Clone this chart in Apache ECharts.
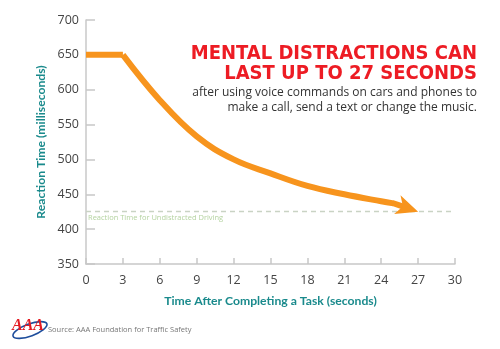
<!DOCTYPE html>
<html><head><meta charset="utf-8">
<script src="https://cdn.jsdelivr.net/npm/echarts@6/dist/echarts.min.js"></script>
<style>html,body{margin:0;padding:0;background:#fff}#c{width:500px;height:349px}</style>
</head><body><div id="c"></div>
<script>
var timeSec = [0, 3, 6, 9, 12, 15, 18, 21, 24, 25];
var reactionMs = [650, 650, 585, 533, 500, 480, 462, 450, 440, 437];
var arrowTip = [27, 425];
var undistractedMs = 425;
var xTicks = [0, 3, 6, 9, 12, 15, 18, 21, 24, 27, 30];
var yTicks = [350, 400, 450, 500, 550, 600, 650, 700];
var titleLines = ['MENTAL DISTRACTIONS CAN', 'LAST UP TO 27 SECONDS'];
var subLines = ['after using voice commands on cars and phones to', 'make a call, send a text or change the music.'];
var refLabel = 'Reaction Time for Undistracted Driving';
var xName = 'Time After Completing a Task (seconds)';
var yName = 'Reaction Time (milliseconds)';
var sourceText = 'Source: AAA Foundation for Traffic Safety';

var chart = echarts.init(document.getElementById('c'), null, {renderer: 'canvas'});
var pts = timeSec.map(function (t, i) { return [t, reactionMs[i]]; });
var flatPts = pts.slice(0, 2);
var curvePts = pts.slice(1);
var last = pts[pts.length - 1];
var axisColor = '#c8c8c8';
var teal = '#1a8a8c';
var orange = '#f7941d';
chart.setOption({
  animation: false,
  grid: {left: 86, right: 45, top: 20, bottom: 85},
  xAxis: {
    type: 'value', min: xTicks[0], max: xTicks[xTicks.length - 1], interval: 3,
    name: xName, nameLocation: 'middle', nameGap: 31,
    nameTextStyle: {color: teal, fontSize: 12.2, fontFamily: 'Lato', fontWeight: 'bold'},
    axisLine: {show: true, lineStyle: {color: axisColor, width: 1.5}},
    axisTick: {show: true, inside: true, length: 6, lineStyle: {color: axisColor, width: 1.5}},
    axisLabel: {color: '#444', fontSize: 12.5, fontFamily: 'Open Sans', margin: 10},
    splitLine: {show: false}
  },
  yAxis: {
    type: 'value', min: yTicks[0], max: yTicks[yTicks.length - 1], interval: 50,
    name: yName, nameLocation: 'middle', nameGap: 39,
    nameTextStyle: {color: teal, fontSize: 12.2, fontFamily: 'Lato', fontWeight: 'bold'},
    axisLine: {show: true, lineStyle: {color: axisColor, width: 1.5}},
    axisTick: {show: true, inside: true, length: 9, lineStyle: {color: axisColor, width: 1.5}},
    axisLabel: {color: '#444', fontSize: 12.5, fontFamily: 'Open Sans', margin: 7},
    splitLine: {show: false}
  },
  series: [{
    type: 'line', data: flatPts, showSymbol: false, symbol: 'none',
    lineStyle: {color: orange, width: 6, cap: 'butt'}, z: 5
  }, {
    type: 'line', data: curvePts, smooth: 0.4, showSymbol: false, symbol: 'none',
    lineStyle: {color: orange, width: 6, cap: 'butt', join: 'round'},
    z: 5,
    markLine: {
      silent: true, animation: false,
      data: [
        [{coord: [xTicks[0], undistractedMs], symbol: 'none',
          lineStyle: {color: '#c9d3c4', type: [5, 4], width: 1.3},
          label: {show: false}},
         {coord: [xTicks[xTicks.length - 1], undistractedMs], symbol: 'none'}]
      ]
    }
  }, {
    type: 'custom', z: 6, silent: true,
    data: [[last[0], last[1], arrowTip[0], arrowTip[1]]],
    renderItem: function (params, api) {
      var p0 = api.coord([api.value(0), api.value(1)]);
      var p1 = api.coord([api.value(2), api.value(3)]);
      var dx = p1[0] - p0[0], dy = p1[1] - p0[1];
      var len = Math.sqrt(dx * dx + dy * dy);
      var ux = dx / len, uy = dy / len, nx = -uy, ny = ux;
      var headL = 22, halfW = 10, notch = 6;
      var bx = p1[0] - ux * headL, by = p1[1] - uy * headL;
      var mx = p1[0] - ux * (headL - notch), my = p1[1] - uy * (headL - notch);
      return {
        type: 'group',
        children: [
          {type: 'line', shape: {x1: p0[0] - ux * 1, y1: p0[1] - uy * 1, x2: mx + ux * 2, y2: my + uy * 2},
            style: {stroke: orange, lineWidth: 6}},
          {type: 'polygon', shape: {points: [
            [p1[0], p1[1]],
            [bx + nx * halfW, by + ny * halfW],
            [mx, my],
            [bx - nx * halfW, by - ny * halfW]
          ]}, style: {fill: orange}}
        ]
      };
    }
  }],
  graphic: [
    {type: 'text', left: 88, top: 214, style: {text: refLabel, fill: '#b4d3a0', font: '7.5px "Open Sans"'}},
    {type: 'text', right: 23, top: 44, style: {text: titleLines.join('\n'), fill: '#ed1c24', textAlign: 'right',
      font: 'bold 20px "DejaVu Sans Condensed", "Liberation Sans Narrow", sans-serif', lineHeight: 20}},
    {type: 'text', right: 23, top: 85, style: {text: subLines.join('\n'), fill: '#333', textAlign: 'right',
      font: '12px "Open Sans"', lineHeight: 15}},
    {type: 'text', left: 48, top: 326, style: {text: sourceText, fill: '#777', font: '7.5px "Open Sans"'}},
    {type: 'ellipse', shape: {cx: 30, cy: 330, rx: 18, ry: 6}, rotation: 0.35, originX: 30, originY: 330,
      style: {fill: 'none', stroke: '#1f4e9c', lineWidth: 1.6}},
    {type: 'text', left: 12, top: 318, style: {text: 'AAA', fill: '#e31b23', font: 'italic bold 16px "Liberation Serif"'}}
  ]
});
</script></body></html>
